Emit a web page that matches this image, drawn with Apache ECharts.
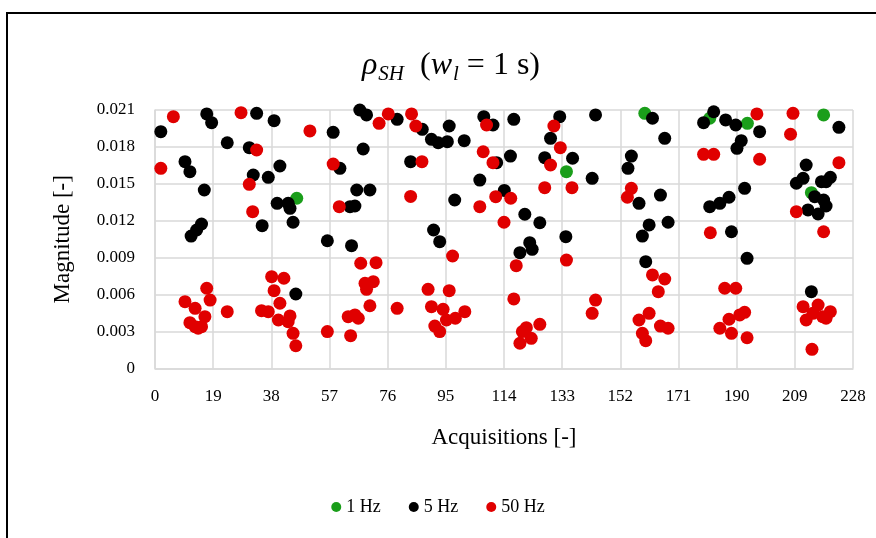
<!DOCTYPE html>
<html><head><meta charset="utf-8">
<script src="https://cdn.jsdelivr.net/npm/echarts@6/dist/echarts.min.js"></script>
<style>html,body{margin:0;padding:0;background:#fff}#c{width:876px;height:538px}</style>
</head><body><div id="c"></div>
<script>
const xTicks = [0,19,38,57,76,95,114,133,152,171,190,209,228];
const yTicks = [0,0.003,0.006,0.009,0.012,0.015,0.018,0.021];
const seriesNames = ['1 Hz','5 Hz','50 Hz'];
const oneHz = [[46.3,0.01383],[134.4,0.01599],[160.0,0.02073],[181.2,0.02033],[193.5,0.01992],[218.4,0.0206],[214.4,0.01428]];
const fiveHz = [
[16.9,0.02068],[18.5,0.01997],[1.9,0.01924],[23.6,0.01834],[9.8,0.0168],[11.4,0.01599],[16.1,0.0145],[15.2,0.01174],[13.6,0.01125],[11.8,0.01076],
[33.2,0.02073],[38.9,0.02013],[30.8,0.01794],[40.8,0.01645],[32.1,0.01572],[37.0,0.01553],[39.9,0.01342],[43.5,0.01342],[44.1,0.01301],[35.0,0.0116],[45.1,0.01188],[46.0,0.00605],
[66.9,0.021],[69.1,0.0206],[79.1,0.02024],[58.2,0.01919],[68.0,0.01783],[60.4,0.01626],[83.5,0.0168],[65.9,0.0145],[70.2,0.0145],[63.7,0.01315],[65.3,0.0132],[56.3,0.01038],[64.2,0.00998],
[107.4,0.02046],[110.4,0.01978],[87.3,0.01943],[96.1,0.0197],[90.3,0.01862],[92.5,0.01834],[95.5,0.01843],[101.0,0.01851],[111.6,0.01672],[106.1,0.01531],[114.1,0.01447],[97.9,0.01369],[91.0,0.01125],[93.0,0.0103],
[117.2,0.02024],[132.2,0.02046],[143.9,0.0206],[129.2,0.0187],[116.1,0.01726],[127.3,0.01713],[136.4,0.01708],[142.8,0.01545],[120.8,0.01253],[125.7,0.01184],[122.4,0.01022],[119.2,0.00941],[123.2,0.00968],[134.2,0.01071],
[162.5,0.02033],[166.5,0.0187],[155.6,0.01726],[154.5,0.01626],[165.1,0.01409],[158.1,0.01342],[167.6,0.01188],[161.4,0.01166],[159.2,0.01076],[160.3,0.00868],
[182.5,0.02086],[179.2,0.01997],[186.4,0.02019],[189.7,0.01978],[197.5,0.01924],[191.5,0.01851],[190.1,0.01789],[192.6,0.01464],[187.5,0.01391],[184.5,0.01342],[181.2,0.01315],[188.3,0.01111],[193.4,0.00895],
[223.4,0.01959],[212.7,0.01653],[209.5,0.01505],[211.7,0.01545],[217.7,0.01518],[220.6,0.01553],[219.2,0.01518],[215.5,0.01396],[218.4,0.01369],[219.2,0.0132],[213.3,0.01288],[216.6,0.01255],[214.4,0.00624]
];
const fiftyHz = [
[6.0,0.02046],[1.9,0.01626],[16.9,0.00652],[18.0,0.00556],[9.8,0.00543],[13.1,0.00489],[16.3,0.00421],[23.6,0.00462],[11.4,0.00372],[13.1,0.0034],[15.2,0.0034],[14.1,0.00327],
[28.1,0.02078],[50.6,0.0193],[33.2,0.01775],[30.8,0.01496],[31.9,0.01274],[38.1,0.00746],[42.1,0.00733],[38.9,0.00632],[40.8,0.0053],[34.8,0.0047],[37.0,0.00462],[40.3,0.00394],[44.1,0.00427],[43.5,0.0038],[45.1,0.00286],[46.0,0.00185],
[76.2,0.02068],[73.2,0.01992],[83.8,0.02068],[58.2,0.01661],[83.5,0.01398],[60.2,0.01315],[67.2,0.00855],[72.2,0.0086],[71.3,0.00705],[68.6,0.00692],[69.1,0.00643],[70.2,0.0051],[79.1,0.00489],[63.1,0.00421],[65.3,0.00435],[66.4,0.00408],[56.3,0.003],[63.9,0.00267],
[85.2,0.0197],[108.3,0.01978],[87.2,0.0168],[107.2,0.01761],[110.4,0.01672],[106.1,0.01315],[111.3,0.01396],[114.0,0.01188],[97.2,0.00914],[89.2,0.00643],[96.1,0.00632],[90.3,0.00502],[94.1,0.00481],[101.2,0.00462],[98.1,0.00408],[95.2,0.00394],[91.4,0.00345],[93.0,0.003],
[130.3,0.0197],[132.4,0.01794],[129.2,0.01653],[127.3,0.01469],[136.2,0.01469],[116.2,0.01383],[118.0,0.00835],[134.4,0.00881],[117.2,0.00565],[125.7,0.00359],[121.3,0.00332],[120.0,0.003],[122.9,0.00245],[119.2,0.00205],[143.9,0.00556],[142.8,0.00448],
[155.6,0.01464],[154.3,0.01391],[162.5,0.0076],[166.5,0.00727],[164.4,0.00624],[161.4,0.00448],[158.1,0.00394],[165.1,0.00345],[167.6,0.00327],[159.2,0.00286],[160.3,0.00226],
[196.6,0.02068],[179.2,0.0174],[182.5,0.0174],[197.5,0.017],[181.4,0.01103],[186.1,0.00652],[189.7,0.00652],[192.6,0.00456],[191.0,0.00435],[187.5,0.004],[184.5,0.00327],[188.3,0.00286],[193.4,0.0025],
[208.4,0.02073],[207.6,0.01903],[223.4,0.01672],[209.5,0.01274],[218.4,0.01111],[211.7,0.00502],[216.6,0.00516],[220.6,0.00462],[212.7,0.00394],[214.9,0.00448],[218.1,0.00421],[219.2,0.00408],[214.6,0.00156]
];
const colors = ['#1a9e1a','#000000','#e00000'];
const FONT = '"Liberation Serif", "DejaVu Serif", serif';

const chart = echarts.init(document.getElementById('c'), null, {renderer:'canvas'});
const mk = (name, data, color) => ({
  name, type:'scatter', data, symbol:'circle', symbolSize:13,
  itemStyle:{color, opacity:1}, emphasis:{disabled:true}, animation:false
});
const big = {fontFamily:FONT, fontSize:32, fontWeight:'normal', color:'#000'};
const sub = {fontFamily:FONT, fontStyle:'italic', fontWeight:'normal', fontSize:21, color:'#000', verticalAlign:'bottom', padding:[18,0,0,1]};
chart.setOption({
  animation:false,
  textStyle:{fontFamily:FONT, color:'#000'},
  graphic:[{type:'rect', shape:{x:7,y:13,width:900,height:600}, style:{fill:'none', stroke:'#000', lineWidth:2}, silent:true}],
  title:{
    text:'{i|ρ}{s|SH}{n|  (}{i|w}{s|l}{n| = 1 s)}',
    left:357, top:41,
    textStyle:{fontWeight:'normal', rich:{
      i:Object.assign({}, big, {fontStyle:'italic'}),
      n:big,
      s:sub
    }}
  },
  legend:{
    bottom:17, left:'center', itemWidth:10, itemHeight:10, itemGap:28,
    data:seriesNames.map(n=>({name:n, icon:'circle'})),
    textStyle:{fontFamily:FONT, fontSize:18, color:'#000'}
  },
  grid:{left:155, right:23, top:110, bottom:169.5, containLabel:false},
  xAxis:{
    type:'value', min:xTicks[0], max:xTicks[xTicks.length-1], interval:19,
    name:'Acquisitions [-]', nameLocation:'middle', nameGap:58,
    nameTextStyle:{fontFamily:FONT, fontSize:23, color:'#000'},
    axisLine:{show:true, lineStyle:{color:'#d9d9d9', width:1.5}},
    axisTick:{show:false},
    axisLabel:{fontFamily:FONT, fontSize:17, color:'#000', margin:20},
    splitLine:{show:true, lineStyle:{color:'#d9d9d9', width:1.5}}
  },
  yAxis:{
    type:'value', min:yTicks[0], max:yTicks[yTicks.length-1], interval:0.003,
    name:'Magnitude [-]', nameLocation:'middle', nameGap:81,
    nameTextStyle:{fontFamily:FONT, fontSize:23, color:'#000'},
    axisLine:{show:true, lineStyle:{color:'#d9d9d9', width:1.5}},
    axisTick:{show:false},
    axisLabel:{fontFamily:FONT, fontSize:17, color:'#000', margin:20,
      formatter:v=> v===0 ? '0' : v.toFixed(3)},
    splitLine:{show:true, lineStyle:{color:'#d9d9d9', width:1.5}}
  },
  series:[mk(seriesNames[0], oneHz, colors[0]), mk(seriesNames[1], fiveHz, colors[1]), mk(seriesNames[2], fiftyHz, colors[2])]
});
</script></body></html>
